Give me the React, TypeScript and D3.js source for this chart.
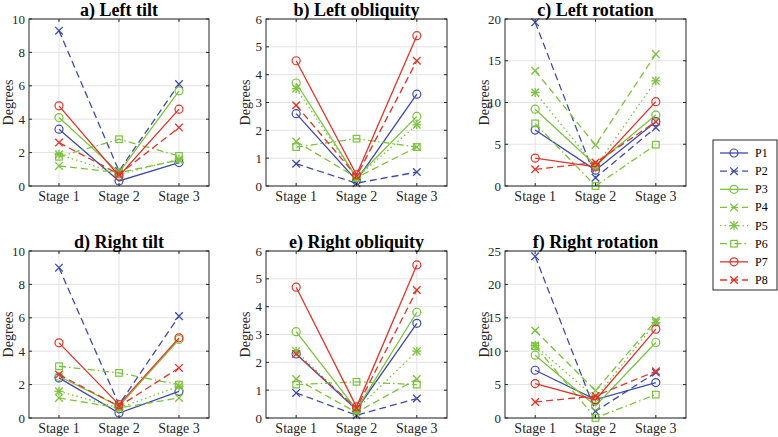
import React from "react";
import * as d3 from "d3";

const stages = ["Stage 1", "Stage 2", "Stage 3"];
const persons = ["P1", "P2", "P3", "P4", "P5", "P6", "P7", "P8"];

const leftTilt = [
  [3.4, 0.3, 1.4], [9.3, 0.9, 6.1], [4.1, 0.8, 5.7], [1.2, 0.8, 1.55],
  [1.9, 0.7, 1.6], [1.75, 2.8, 1.8], [4.8, 0.6, 4.6], [2.6, 0.7, 3.5],
];
const leftObliquity = [
  [2.6, 0.2, 3.3], [0.8, 0.1, 0.5], [3.7, 0.3, 2.5], [1.6, 0.3, 1.4],
  [3.5, 0.3, 2.2], [1.4, 1.7, 1.4], [4.5, 0.4, 5.4], [2.9, 0.35, 4.5],
];
const leftRotation = [
  [6.7, 1.9, 7.7], [19.6, 1.0, 7.0], [9.2, 2.5, 8.5], [13.8, 4.9, 15.8],
  [11.2, 2.3, 12.6], [7.5, 0.0, 4.95], [3.35, 2.3, 10.1], [2.0, 2.8, 7.7],
];
const rightTilt = [
  [2.4, 0.3, 1.6], [9.0, 0.8, 6.1], [2.5, 0.7, 4.7], [1.2, 0.6, 1.2],
  [1.6, 0.6, 1.9], [3.1, 2.7, 2.0], [4.5, 0.8, 4.8], [2.6, 0.7, 3.0],
];
const rightObliquity = [
  [2.3, 0.3, 3.4], [0.9, 0.1, 0.7], [3.1, 0.3, 3.8], [1.4, 0.2, 1.4],
  [2.4, 0.3, 2.4], [1.2, 1.3, 1.2], [4.7, 0.4, 5.5], [2.3, 0.35, 4.6],
];
const rightRotation = [
  [7.15, 2.75, 5.3], [24.2, 1.0, 6.8], [9.4, 1.8, 11.3], [13.1, 4.1, 14.6],
  [10.85, 3.0, 14.3], [10.75, 0.0, 3.5], [5.15, 2.7, 13.3], [2.4, 3.3, 7.0],
];

const titles = ["a) Left tilt", "b) Left obliquity", "c) Left rotation", "d) Right tilt", "e) Right obliquity", "f) Right rotation"];
const panelData = [leftTilt, leftObliquity, leftRotation, rightTilt, rightObliquity, rightRotation];
const yMax = [10, 6, 20, 10, 6, 25];
const yStep = [2, 1, 5, 2, 1, 5];

const BLUE = "#3d4ba8";
const GREEN = "#7cc23e";
const RED = "#e0352b";
const styles = [
  { color: BLUE, dash: "", marker: "o" },
  { color: BLUE, dash: "7,4", marker: "x" },
  { color: GREEN, dash: "", marker: "o" },
  { color: GREEN, dash: "7,4", marker: "x" },
  { color: GREEN, dash: "1.5,3", marker: "*" },
  { color: GREEN, dash: "7,3,1.5,3", marker: "s" },
  { color: RED, dash: "", marker: "o" },
  { color: RED, dash: "7,4", marker: "x" },
];

const colsX = [[29, 209], [266, 447], [505, 686]];
const rowsY = [[19, 186], [251, 418]];
const FONT = "'Liberation Serif', 'Times New Roman', serif";

function Marker({ type, x, y, color }: { type: string; x: number; y: number; color: string }) {
  const s = 3.8;
  if (type === "o") return <circle cx={x} cy={y} r={4} fill="none" stroke={color} strokeWidth={1.2} />;
  if (type === "s") return <rect x={x - 3.3} y={y - 3.3} width={6.6} height={6.6} fill="none" stroke={color} strokeWidth={1.2} />;
  if (type === "x")
    return (
      <g stroke={color} strokeWidth={1.3}>
        <line x1={x - s} y1={y - s} x2={x + s} y2={y + s} />
        <line x1={x - s} y1={y + s} x2={x + s} y2={y - s} />
      </g>
    );
  return (
    <g stroke={color} strokeWidth={1.3}>
      <line x1={x - s} y1={y - s} x2={x + s} y2={y + s} />
      <line x1={x - s} y1={y + s} x2={x + s} y2={y - s} />
      <line x1={x - 4.5} y1={y} x2={x + 4.5} y2={y} />
      <line x1={x} y1={y - 4.5} x2={x} y2={y + 4.5} />
    </g>
  );
}

function Panel({ idx }: { idx: number }) {
  const [x0, x1] = colsX[idx % 3];
  const [y0, y1] = rowsY[Math.floor(idx / 3)];
  const x = d3.scaleLinear().domain([0.5, 3.5]).range([x0, x1]);
  const y = d3.scaleLinear().domain([0, yMax[idx]]).range([y1, y0]);
  const yTicks = d3.range(0, yMax[idx] + 0.001, yStep[idx]);
  const line = d3.line<number>().x((_, i) => x(i + 1)).y((v) => y(v));
  const data = panelData[idx];
  const cx = (x0 + x1) / 2;
  return (
    <g>
      <rect x={x0} y={y0} width={x1 - x0} height={y1 - y0} fill="#fff" />
      {yTicks.map((t) => (
        <line key={"gy" + t} x1={x0} x2={x1} y1={y(t)} y2={y(t)} stroke="#e3e3e3" strokeWidth={1} />
      ))}
      {stages.map((_, i) => (
        <line key={"gx" + i} x1={x(i + 1)} x2={x(i + 1)} y1={y0} y2={y1} stroke="#e3e3e3" strokeWidth={1} />
      ))}
      {data.map((vals, p) => (
        <g key={"s" + p}>
          <path d={line(vals) || ""} fill="none" stroke={styles[p].color} strokeWidth={1.3} strokeDasharray={styles[p].dash} />
          {vals.map((v, i) => (
            <Marker key={i} type={styles[p].marker} x={x(i + 1)} y={y(v)} color={styles[p].color} />
          ))}
        </g>
      ))}
      <rect x={x0} y={y0} width={x1 - x0} height={y1 - y0} fill="none" stroke="#262626" strokeWidth={1} />
      {yTicks.map((t) => (
        <g key={"ty" + t}>
          <line x1={x0} x2={x0 + 3} y1={y(t)} y2={y(t)} stroke="#262626" />
          <line x1={x1} x2={x1 - 3} y1={y(t)} y2={y(t)} stroke="#262626" />
          <text x={x0 - 4} y={y(t) + 4.5} textAnchor="end" fontSize={13} fontFamily={FONT} fill="#262626">{t}</text>
        </g>
      ))}
      {stages.map((s, i) => (
        <g key={"tx" + i}>
          <line x1={x(i + 1)} x2={x(i + 1)} y1={y1} y2={y1 - 3} stroke="#262626" />
          <line x1={x(i + 1)} x2={x(i + 1)} y1={y0} y2={y0 + 3} stroke="#262626" />
          <text x={x(i + 1)} y={y1 + 15} textAnchor="middle" fontSize={14} fontFamily={FONT} fill="#262626">{s}</text>
        </g>
      ))}
      <text x={cx} y={y0 - 3} textAnchor="middle" fontSize={18} fontWeight="bold" fontFamily={FONT} fill="#000">{titles[idx]}</text>
      <text transform={`translate(${x0 - 16},${(y0 + y1) / 2}) rotate(-90)`} textAnchor="middle" fontSize={14} fontFamily={FONT} fill="#262626">Degrees</text>
    </g>
  );
}

function Legend() {
  const lx = 713, ly = 140, w = 64, h = 150;
  const rowY = d3.scaleLinear().domain([0, 7]).range([ly + 13, ly + 140]);
  return (
    <g>
      <rect x={lx} y={ly} width={w} height={h} fill="#fff" stroke="#262626" strokeWidth={1} />
      {persons.map((p, i) => (
        <g key={p}>
          <line x1={lx + 7} x2={lx + 35} y1={rowY(i)} y2={rowY(i)} stroke={styles[i].color} strokeWidth={1.3} strokeDasharray={styles[i].dash} />
          <Marker type={styles[i].marker} x={lx + 21} y={rowY(i)} color={styles[i].color} />
          <text x={lx + 42} y={rowY(i) + 4} fontSize={12} fontFamily={FONT} fill="#000">{p}</text>
        </g>
      ))}
    </g>
  );
}

export default function App() {
  return (
    <svg width={778} height={437} style={{ position: "absolute", left: 0, top: 0, background: "#fff" }}>
      <rect width={778} height={437} fill="#fff" />
      {panelData.map((_, i) => (
        <Panel key={i} idx={i} />
      ))}
      <Legend />
    </svg>
  );
}
